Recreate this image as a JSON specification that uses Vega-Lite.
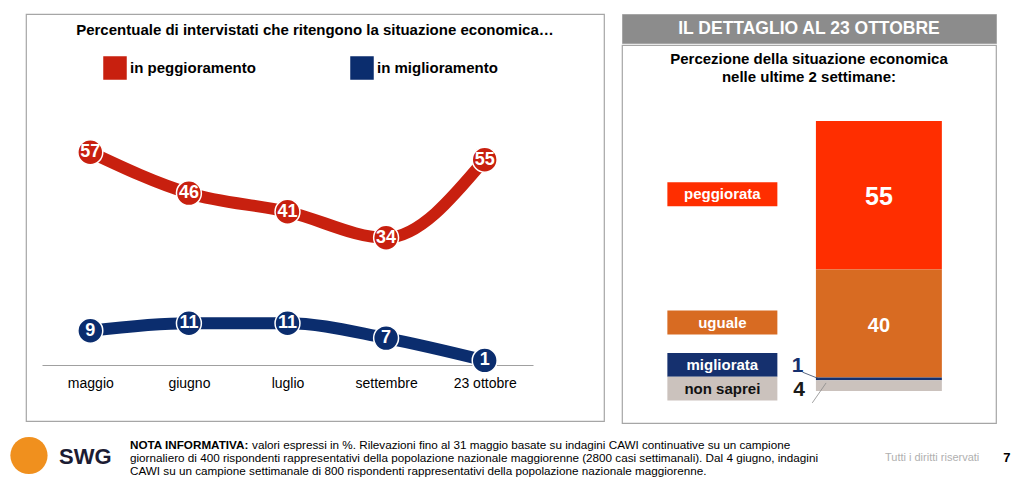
{
  "$schema": "https://vega.github.io/schema/vega-lite/v6.json",
  "background": "white",
  "padding": {"left": 8, "top": 13, "right": 0, "bottom": 0},
  "config": {"font": "Liberation Sans", "view": {"stroke": "#a6a6a6", "strokeWidth": 1.2}},
  "spacing": 12,
  "vconcat": [
    {
      "spacing": 16,
      "resolve": {"scale": {"color": "independent"}, "legend": {"color": "independent"}},
      "hconcat": [
        {
          "width": 1, "height": 407,
          "view": {"stroke": null},
          "data": {"values": []},
          "mark": "text",
          "encoding": {}
        },
        {
          "width": 578, "height": 407,
          "title": {"text": "Percentuale di intervistati che ritengono la situazione economica…", "offset": -24, "fontSize": 15, "fontWeight": "bold", "anchor": "middle", "color": "black"},
          "data": {"values": [
            {"mese": "maggio", "serie": "in peggioramento", "valore": 57},
            {"mese": "giugno", "serie": "in peggioramento", "valore": 46},
            {"mese": "luglio", "serie": "in peggioramento", "valore": 41},
            {"mese": "settembre", "serie": "in peggioramento", "valore": 34},
            {"mese": "23 ottobre", "serie": "in peggioramento", "valore": 55},
            {"mese": "maggio", "serie": "in miglioramento", "valore": 9},
            {"mese": "giugno", "serie": "in miglioramento", "valore": 11},
            {"mese": "luglio", "serie": "in miglioramento", "valore": 11},
            {"mese": "settembre", "serie": "in miglioramento", "valore": 7},
            {"mese": "23 ottobre", "serie": "in miglioramento", "valore": 1}
          ]},
          "encoding": {
            "x": {"field": "mese", "type": "ordinal", "sort": ["maggio", "giugno", "luglio", "settembre", "23 ottobre"],
                  "scale": {"type": "point", "range": [16, 507], "padding": 0.49},
                  "axis": {"title": null, "offset": -56, "domainColor": "#a0a0a0", "domainWidth": 1.2, "ticks": false, "grid": false, "labelFontSize": 14, "labelColor": "black", "labelPadding": 11, "labelAngle": 0}},
            "y": {"field": "valore", "type": "quantitative", "scale": {"domain": [-15.3, 94.2], "nice": false}, "axis": null},
            "color": {"field": "serie", "type": "nominal",
                      "scale": {"domain": ["in peggioramento", "in miglioramento"], "range": ["#c8200f", "#0b2d6e"]},
                      "legend": {"orient": "none", "legendX": 77, "legendY": 42, "direction": "horizontal", "title": null,
                                 "symbolType": "square", "symbolSize": 484, "labelFontSize": 15, "labelFontWeight": "bold",
                                 "labelColor": "black", "columnPadding": 92, "labelOffset": 3,
                                 "encode": {"symbols": {"update": {"fill": {"scale": "color", "field": "value"}, "stroke": {"value": "transparent"}, "opacity": {"value": 1}}}}}}
          },
          "layer": [
            {"mark": {"type": "line", "interpolate": "monotone", "strokeWidth": 12}},
            {"mark": {"type": "point", "filled": true, "size": 620, "stroke": "white", "strokeWidth": 1.5, "opacity": 1}},
            {"mark": {"type": "text", "fontWeight": "bold", "fontSize": 18}, "encoding": {"text": {"field": "valore"}, "color": {"value": "white"}}}
          ]
        },
        {
          "spacing": 0,
          "vconcat": [
            {
              "width": 374, "height": 29,
              "view": {"fill": "#8c8c8c", "stroke": "#a6a6a6"},
              "data": {"values": [{"t": "IL DETTAGLIO AL 23 OTTOBRE"}]},
              "mark": {"type": "text", "color": "white", "fontSize": 17.5, "fontWeight": "bold"},
              "encoding": {"text": {"field": "t"}}
            },
            {
              "width": 374, "height": 378,
              "title": {"text": ["Percezione della situazione economica", "nelle ultime 2 settimane:"], "offset": -40, "fontSize": 15, "fontWeight": "bold", "lineHeight": 18, "color": "black", "anchor": "middle"},
              "data": {"values": [
                {"cat": "peggiorata", "v": 55, "rank": 4},
                {"cat": "uguale", "v": 40, "rank": 3},
                {"cat": "migliorata", "v": 1, "rank": 2},
                {"cat": "non saprei", "v": 4, "rank": 1}
              ]},
              "layer": [
                {
                  "mark": {"type": "bar", "orient": "vertical"},
                  "encoding": {
                    "x": {"datum": 51.9, "type": "quantitative", "scale": {"domain": [0, 100], "nice": false, "zero": false}, "axis": null},
                    "x2": {"datum": 86.5},
                    "y": {"field": "v", "type": "quantitative", "stack": "zero", "scale": {"domain": [-11.84, 128.16], "nice": false, "zero": false}, "axis": null},
                    "order": {"field": "rank", "type": "quantitative"},
                    "color": {"field": "cat", "type": "nominal", "legend": null,
                              "scale": {"domain": ["peggiorata", "uguale", "migliorata", "non saprei"], "range": ["#ff2e00", "#d86b22", "#15306e", "#cbc2bd"]}}
                  }
                },
                {
                  "mark": {"type": "text", "fontWeight": "bold", "color": "white", "yOffset": 2},
                  "encoding": {
                    "x": {"datum": 69.2, "type": "quantitative", "scale": {"domain": [0, 100], "nice": false, "zero": false}},
                    "y": {"field": "v", "type": "quantitative", "stack": "zero", "bandPosition": 0.5, "scale": {"domain": [-11.84, 128.16], "nice": false, "zero": false}},
                    "order": {"field": "rank", "type": "quantitative"},
                    "text": {"condition": {"test": "datum.v >= 10", "field": "v"}, "value": ""},
                    "size": {"condition": {"test": "datum.cat == 'peggiorata'", "value": 25}, "value": 20}
                  }
                },
                {
                  "mark": {"type": "point", "filled": true, "shape": "M-1,-0.218H1V0.218H-1Z", "size": 12100, "yOffset": -1},
                  "encoding": {
                    "x": {"datum": 26.2, "type": "quantitative", "scale": {"domain": [0, 100], "nice": false, "zero": false}},
                    "y": {"field": "v", "type": "quantitative", "stack": "zero", "bandPosition": 0.5, "scale": {"domain": [-11.84, 128.16], "nice": false, "zero": false}},
                    "order": {"field": "rank", "type": "quantitative"},
                    "color": {"field": "cat", "type": "nominal", "legend": null},
                    "opacity": {"condition": {"test": "datum.v >= 10", "value": 1}, "value": 0}
                  }
                },
                {
                  "mark": {"type": "point", "filled": true, "shape": "M-1,-0.218H1V0.218H-1Z", "size": 12100, "yOffset": -14},
                  "encoding": {
                    "x": {"datum": 26.2, "type": "quantitative", "scale": {"domain": [0, 100], "nice": false, "zero": false}},
                    "y": {"field": "v", "type": "quantitative", "stack": "zero", "bandPosition": 0.5, "scale": {"domain": [-11.84, 128.16], "nice": false, "zero": false}},
                    "order": {"field": "rank", "type": "quantitative"},
                    "color": {"field": "cat", "type": "nominal", "legend": null},
                    "opacity": {"condition": {"test": "datum.cat == 'migliorata'", "value": 1}, "value": 0}
                  }
                },
                {
                  "mark": {"type": "point", "filled": true, "shape": "M-1,-0.218H1V0.218H-1Z", "size": 12100, "yOffset": 3},
                  "encoding": {
                    "x": {"datum": 26.2, "type": "quantitative", "scale": {"domain": [0, 100], "nice": false, "zero": false}},
                    "y": {"field": "v", "type": "quantitative", "stack": "zero", "bandPosition": 0.5, "scale": {"domain": [-11.84, 128.16], "nice": false, "zero": false}},
                    "order": {"field": "rank", "type": "quantitative"},
                    "color": {"field": "cat", "type": "nominal", "legend": null},
                    "opacity": {"condition": {"test": "datum.cat == 'non saprei'", "value": 1}, "value": 0}
                  }
                },
                {
                  "mark": {"type": "text", "fontWeight": "bold", "fontSize": 15, "color": "white", "yOffset": -1},
                  "encoding": {
                    "x": {"datum": 26.2, "type": "quantitative", "scale": {"domain": [0, 100], "nice": false, "zero": false}},
                    "y": {"field": "v", "type": "quantitative", "stack": "zero", "bandPosition": 0.5, "scale": {"domain": [-11.84, 128.16], "nice": false, "zero": false}},
                    "order": {"field": "rank", "type": "quantitative"},
                    "text": {"condition": {"test": "datum.v >= 10", "field": "cat"}, "value": ""}
                  }
                },
                {
                  "mark": {"type": "text", "fontWeight": "bold", "fontSize": 15, "color": "white", "yOffset": -14},
                  "encoding": {
                    "x": {"datum": 26.2, "type": "quantitative", "scale": {"domain": [0, 100], "nice": false, "zero": false}},
                    "y": {"field": "v", "type": "quantitative", "stack": "zero", "bandPosition": 0.5, "scale": {"domain": [-11.84, 128.16], "nice": false, "zero": false}},
                    "order": {"field": "rank", "type": "quantitative"},
                    "text": {"condition": {"test": "datum.cat == 'migliorata'", "field": "cat"}, "value": ""}
                  }
                },
                {
                  "mark": {"type": "text", "fontWeight": "bold", "fontSize": 15, "color": "#111111", "yOffset": 3},
                  "encoding": {
                    "x": {"datum": 26.2, "type": "quantitative", "scale": {"domain": [0, 100], "nice": false, "zero": false}},
                    "y": {"field": "v", "type": "quantitative", "stack": "zero", "bandPosition": 0.5, "scale": {"domain": [-11.84, 128.16], "nice": false, "zero": false}},
                    "order": {"field": "rank", "type": "quantitative"},
                    "text": {"condition": {"test": "datum.cat == 'non saprei'", "field": "cat"}, "value": ""}
                  }
                },
                {
                  "mark": {"type": "text", "fontWeight": "bold", "fontSize": 21, "color": "#15306e", "yOffset": -13},
                  "encoding": {
                    "x": {"datum": 46.9, "type": "quantitative", "scale": {"domain": [0, 100], "nice": false, "zero": false}},
                    "y": {"field": "v", "type": "quantitative", "stack": "zero", "bandPosition": 0.5, "scale": {"domain": [-11.84, 128.16], "nice": false, "zero": false}},
                    "order": {"field": "rank", "type": "quantitative"},
                    "text": {"condition": {"test": "datum.cat == 'migliorata'", "field": "v"}, "value": ""}
                  }
                },
                {
                  "mark": {"type": "text", "fontWeight": "bold", "fontSize": 21, "color": "#1a1a1a", "yOffset": 4},
                  "encoding": {
                    "x": {"datum": 47.3, "type": "quantitative", "scale": {"domain": [0, 100], "nice": false, "zero": false}},
                    "y": {"field": "v", "type": "quantitative", "stack": "zero", "bandPosition": 0.5, "scale": {"domain": [-11.84, 128.16], "nice": false, "zero": false}},
                    "order": {"field": "rank", "type": "quantitative"},
                    "text": {"condition": {"test": "datum.cat == 'non saprei'", "field": "v"}, "value": ""}
                  }
                },
                {
                  "data": {"values": [{}]},
                  "mark": {"type": "rule", "color": "#33415f", "strokeWidth": 0.8},
                  "encoding": {"x": {"datum": 48.2, "type": "quantitative", "scale": {"domain": [0, 100], "nice": false, "zero": false}}, "x2": {"datum": 53.0}, "y": {"datum": 7.0, "type": "quantitative", "scale": {"domain": [-11.84, 128.16], "nice": false, "zero": false}}, "y2": {"datum": 4.4}}
                },
                {
                  "data": {"values": [{}]},
                  "mark": {"type": "rule", "color": "#8a8a8a", "strokeWidth": 0.8},
                  "encoding": {"x": {"datum": 54.7, "type": "quantitative", "scale": {"domain": [0, 100], "nice": false, "zero": false}}, "x2": {"datum": 50.9}, "y": {"datum": 3.0, "type": "quantitative", "scale": {"domain": [-11.84, 128.16], "nice": false, "zero": false}}, "y2": {"datum": -4.4}}
                }
              ]
            }
          ]
        }
      ]
    },
    {
      "width": 1013, "height": 39,
      "view": {"stroke": null},
      "data": {"values": [
        {"pezzo": "logo", "riga": 2, "testo": "SWG"},
        {"pezzo": "titolo", "riga": 1, "testo": "NOTA INFORMATIVA:"},
        {"pezzo": "prima", "riga": 1, "testo": "valori espressi in %. Rilevazioni fino al 31 maggio basate su indagini CAWI continuative su un campione"},
        {"pezzo": "nota", "riga": 2, "testo": "giornaliero di 400 rispondenti rappresentativi della popolazione nazionale maggiorenne (2800 casi settimanali). Dal 4 giugno, indagini"},
        {"pezzo": "nota", "riga": 3, "testo": "CAWI su un campione settimanale di 800 rispondenti rappresentativi della popolazione nazionale maggiorenne."},
        {"pezzo": "diritti", "riga": 2, "testo": "Tutti i diritti riservati"},
        {"pezzo": "pagina", "riga": 2, "testo": "7"}
      ]},
      "encoding": {
        "y": {"field": "riga", "type": "ordinal", "scale": {"type": "point", "padding": 0.5, "domain": [1, 2, 3]}, "axis": null}
      },
      "layer": [
        {
          "transform": [{"filter": "datum.pezzo == 'logo'"}],
          "mark": {"type": "point", "filled": true, "color": "#f0901e", "opacity": 1, "size": 1385, "yOffset": -2},
          "encoding": {"x": {"datum": 2.07, "type": "quantitative", "scale": {"domain": [0, 100], "nice": false, "zero": false}, "axis": null}}
        },
        {
          "transform": [{"filter": "datum.pezzo == 'logo'"}],
          "mark": {"type": "text", "align": "left", "fontWeight": "bold", "fontSize": 22, "color": "#1c1c33", "yOffset": -1},
          "encoding": {"x": {"datum": 5.03, "type": "quantitative"}, "text": {"field": "testo"}}
        },
        {
          "transform": [{"filter": "datum.pezzo == 'titolo'"}],
          "mark": {"type": "text", "align": "left", "fontWeight": "bold", "fontSize": 11.7, "color": "black"},
          "encoding": {"x": {"datum": 12.04, "type": "quantitative"}, "text": {"field": "testo"}}
        },
        {
          "transform": [{"filter": "datum.pezzo == 'prima'"}],
          "mark": {"type": "text", "align": "left", "fontSize": 11.7, "color": "black"},
          "encoding": {"x": {"datum": 24.09, "type": "quantitative"}, "text": {"field": "testo"}}
        },
        {
          "transform": [{"filter": "datum.pezzo == 'nota'"}],
          "mark": {"type": "text", "align": "left", "fontSize": 11.7, "color": "black"},
          "encoding": {"x": {"datum": 12.04, "type": "quantitative"}, "text": {"field": "testo"}}
        },
        {
          "transform": [{"filter": "datum.pezzo == 'diritti'"}],
          "mark": {"type": "text", "align": "left", "fontSize": 11, "color": "#b0b0b0"},
          "encoding": {"x": {"datum": 86.57, "type": "quantitative"}, "text": {"field": "testo"}}
        },
        {
          "transform": [{"filter": "datum.pezzo == 'pagina'"}],
          "mark": {"type": "text", "fontSize": 13, "fontWeight": "bold", "color": "black"},
          "encoding": {"x": {"datum": 98.6, "type": "quantitative"}, "text": {"field": "testo"}}
        }
      ]
    }
  ]
}
